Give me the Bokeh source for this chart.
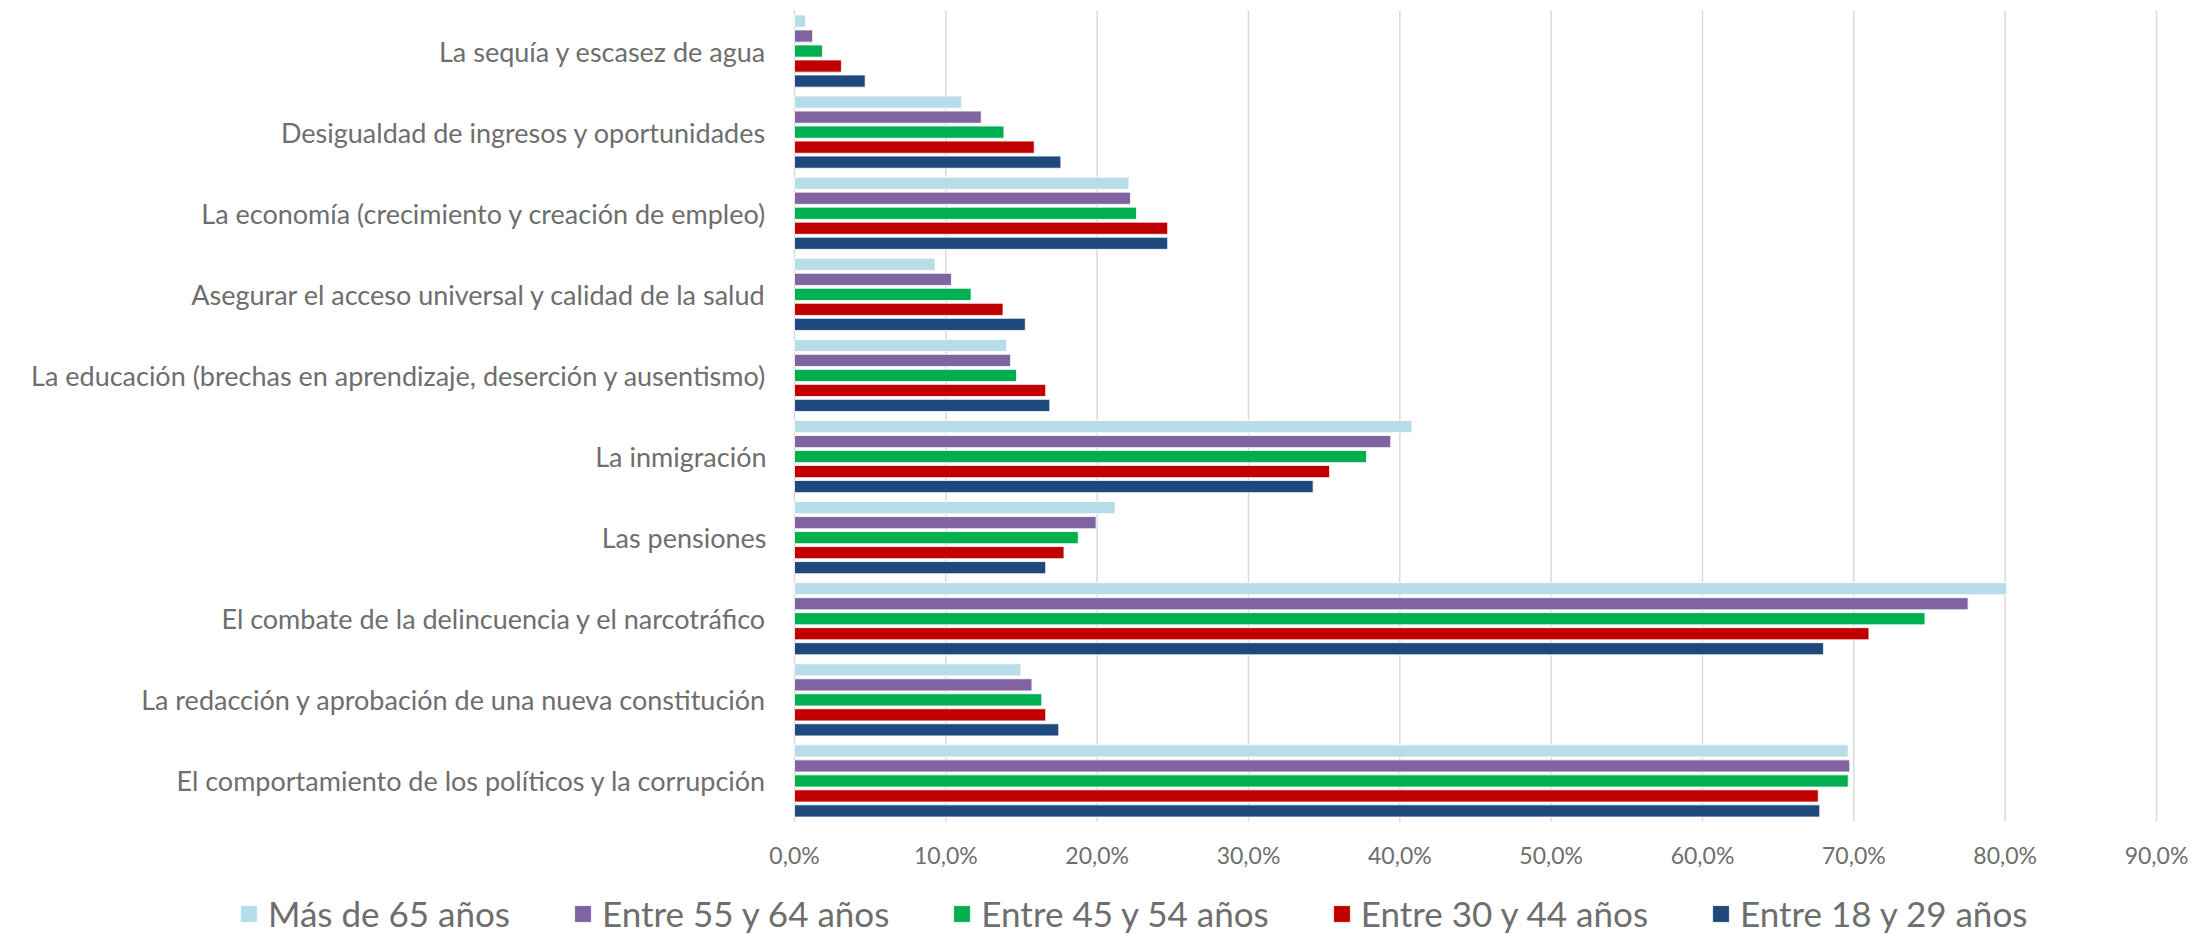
from bokeh.plotting import figure
from bokeh.models import ColumnDataSource, Range1d, Legend, LegendItem
from bokeh.transform import dodge
from bokeh.core.properties import value
from bokeh.embed import file_html
from bokeh.resources import INLINE

# Categories, top to bottom as shown
categories = [
    "La sequía y escasez de agua",
    "Desigualdad de ingresos y oportunidades",
    "La economía (crecimiento y creación de empleo)",
    "Asegurar el acceso universal y calidad de la salud",
    "La educación (brechas en aprendizaje, deserción y ausentismo)",
    "La inmigración",
    "Las pensiones",
    "El combate de la delincuencia y el narcotráfico",
    "La redacción y aprobación de una nueva constitución",
    "El comportamiento de los políticos y la corrupción",
]

series_names = ["Más de 65 años", "Entre 55 y 64 años", "Entre 45 y 54 años",
                "Entre 30 y 44 años", "Entre 18 y 29 años"]

# values in percent, same order as categories
mas_65 = [0.73, 11.05, 22.10, 9.29, 14.02, 40.8, 21.19, 80.1, 14.96, 69.63]
entre_55_64 = [1.20, 12.34, 22.20, 10.37, 14.28, 39.4, 19.93, 77.55, 15.69, 69.73]
entre_45_54 = [1.85, 13.84, 22.60, 11.67, 14.67, 37.8, 18.75, 74.7, 16.34, 69.63]
entre_30_44 = [3.10, 15.84, 24.66, 13.78, 16.60, 35.36, 17.81, 71.0, 16.60, 67.65]
entre_18_29 = [4.67, 17.60, 24.66, 15.25, 16.87, 34.27, 16.60, 68.0, 17.46, 67.75]

colors = ["#B7DEE8", "#8064A2", "#00B050", "#C00000", "#1F497D"]

tick_values = [0, 10, 20, 30, 40, 50, 60, 70, 80, 90]
tick_labels = ["0,0%", "10,0%", "20,0%", "30,0%", "40,0%", "50,0%", "60,0%", "70,0%", "80,0%", "90,0%"]

series_values = [mas_65, entre_55_64, entre_45_54, entre_30_44, entre_18_29]

TEXT = "#6E6E6E"
GRID = "#D9D9D9"
FONT = "Lato"

# ---- layout constants (pixels) ----
W, H = 2200, 934
X0_PX, X90_PX = 794, 2156        # where 0% and 90% fall
TOP_PX, BOT_PX = 10, 821         # plot band top / bottom
n = len(categories)
px_per_x = (X90_PX - X0_PX) / tick_values[-1]
px_per_y = (BOT_PX - TOP_PX) / n
x_start = -X0_PX / px_per_x
x_end = x_start + W / px_per_x
y_top = (n - 0.5) + TOP_PX / px_per_y
y_bot = y_top - H / px_per_y

ypos = [n - 1 - i for i in range(n)]   # category index, top category highest
keys = ["s0", "s1", "s2", "s3", "s4"]
data = {"cat": categories, "ypos": ypos}
for k, v in zip(keys, series_values):
    data[k] = v
source = ColumnDataSource(data)

p = figure(
    width=W, height=H,
    x_range=Range1d(x_start, x_end), y_range=Range1d(y_bot, y_top),
    x_axis_location=None, y_axis_location=None,
    output_backend="svg", toolbar_location=None, min_border=0,
)
p.outline_line_color = None
p.background_fill_color = "white"
p.border_fill_color = "white"
p.grid.visible = False

# vertical gridlines (value axis), spanning the category band only
grid_src = ColumnDataSource(dict(x=tick_values, y0=[-0.5] * len(tick_values),
                                 y1=[n - 0.5] * len(tick_values)))
p.segment(x0="x", y0="y0", x1="x", y1="y1", source=grid_src, line_color=GRID, line_width=1.5)

offsets = [0.37, 0.185, 0.0, -0.185, -0.37]
renderers = []
for k, off, c in zip(keys, offsets, colors):
    r = p.hbar(y=dodge("ypos", off), right=k, left=0, height=0.15,
               source=source, fill_color=c, line_color="white", line_width=0.8)
    renderers.append(r)

# category labels (left of the 0 line)
cat_x = -28 / px_per_x
p.text(x=cat_x, y="ypos", text="cat", source=source, text_font=value(FONT),
       text_font_size="27px", text_color=TEXT, text_align="right", text_baseline="middle")

# value tick labels below the band
tick_y = y_top - 854.5 / px_per_y
tick_src = ColumnDataSource(dict(x=tick_values, label=tick_labels, y=[tick_y] * len(tick_values)))
p.text(x="x", y="y", text="label", source=tick_src, text_font=value(FONT),
       text_font_size="23px", text_color=TEXT, text_align="center", text_baseline="middle")

legend = Legend(
    items=[LegendItem(label=nm, renderers=[r]) for nm, r in zip(series_names, renderers)],
    orientation="horizontal", nrows=1, ncols=5,
    location=(238, 0),
    label_text_font=FONT, label_text_font_size="35px", label_text_color=TEXT,
    glyph_width=21, glyph_height=21, label_standoff=9, spacing=62,
    padding=0, margin=0, border_line_color=None, background_fill_alpha=0,
)
p.add_layout(legend)

open("out.html", "w").write(file_html(p, INLINE))
